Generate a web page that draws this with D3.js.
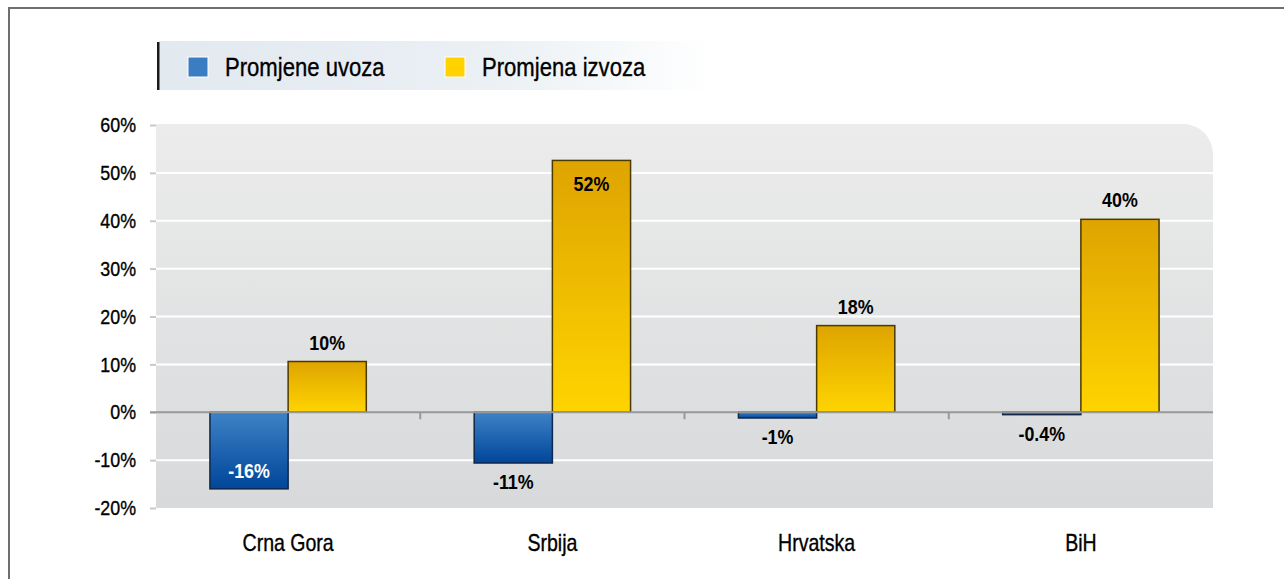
<!DOCTYPE html>
<html>
<head>
<meta charset="utf-8">
<script src="https://cdn.jsdelivr.net/npm/d3@7"></script>
<style>
  body { margin: 0; background: #fff; }
  svg { display: block; font-family: "Liberation Sans", Arial, sans-serif; }
</style>
</head>
<body>
<svg width="1284" height="579"></svg>
<script>
// исходные данные
const categories = ["Crna Gora", "Srbija", "Hrvatska", "BiH"];
const seriesNames = ["Promjene uvoza", "Promjena izvoza"];
const uvoz = [-16, -10.6, -1.2, -0.5];
const izvoz = [10.6, 52.6, 18.1, 40.3];
const uvozLabels = ["-16%", "-11%", "-1%", "-0.4%"];
const izvozLabels = ["10%", "52%", "18%", "40%"];
const yTicks = [-20, -10, 0, 10, 20, 30, 40, 50, 60];

// сжатие шрифта по горизонтали (узкий шрифт)
const cond = 0.85;

let svg = d3.select("svg");

// область построения
attr_area = {
    left: 156,
    right: 1213,
    top: 125,
    bottom: 508
};

const defs = svg.append("defs");

function addGradient(id, x2, y2, stops) {
    const g = defs.append("linearGradient")
        .attr("id", id)
        .attr("x1", "0").attr("y1", "0")
        .attr("x2", x2).attr("y2", y2);
    stops.forEach(s => g.append("stop").attr("offset", s[0]).attr("stop-color", s[1]));
}

// текст узким начертанием
function condText(x, y, txt, size, weight, fill, anchor) {
    const t = svg.append("text")
        .attr("transform", `translate(${x}, ${y}) scale(${cond}, 1)`)
        .attr("text-anchor", anchor || "start")
        .attr("font-size", size)
        .attr("font-weight", weight || "normal")
        .attr("fill", fill || "#000")
        .text(txt);
    if (!weight) t.attr("stroke", fill || "#000").attr("stroke-width", 0.35);
    return t;
}

addGradient("bgGrad", "0", "1", [[0, "#ebeceb"], [1, "#d8d9db"]]);
addGradient("blueGrad", "0", "1", [[0, "#3e82c6"], [1, "#00469a"]]);
addGradient("yellowGrad", "0", "1", [[0, "#dea400"], [1, "#ffd400"]]);
addGradient("legGrad", "1", "0", [[0, "#e2e9ef"], [0.6, "#eaf0f4"], [1, "#ffffff"]]);

// внешняя рамка
svg.append("rect")
    .attr("x", 9).attr("y", 8)
    .attr("width", 1300).attr("height", 600)
    .attr("fill", "none")
    .attr("stroke", "#6f6f6f")
    .attr("stroke-width", 2);

// легенда
svg.append("rect")
    .attr("x", 159).attr("y", 41)
    .attr("width", 556).attr("height", 49)
    .attr("fill", "url(#legGrad)");
svg.append("rect")
    .attr("x", 157).attr("y", 42)
    .attr("width", 2.5).attr("height", 48)
    .attr("fill", "#1a1a1a");

const legendX = [188, 445];
const legendFill = ["#3a7dc3", "#ffd200"];
seriesNames.forEach((name, i) => {
    svg.append("rect")
        .attr("x", legendX[i]).attr("y", 57)
        .attr("width", 20).attr("height", 20)
        .attr("fill", legendFill[i])
        .attr("stroke", "#fff")
        .attr("stroke-width", 1);
    condText(legendX[i] + 37, 76, name, 26);
});

// шкалы
let scaleX = d3.scaleBand()
    .domain(categories)
    .range([attr_area.left, attr_area.right])
    .padding(0);

let scaleSub = d3.scaleBand()
    .domain([0, 1])
    .range([0, scaleX.bandwidth()])
    .paddingInner(0)
    .paddingOuter(0.69);

let scaleY = d3.scaleLinear()
    .domain([-20, 60])
    .range([attr_area.bottom, attr_area.top]);

// фон с закругленным углом
const r = 30;
svg.append("path")
    .attr("d", `M${attr_area.left},${attr_area.top - 1} H${attr_area.right - r}
                A${r},${r} 0 0 1 ${attr_area.right},${attr_area.top - 1 + r}
                V${attr_area.bottom} H${attr_area.left} Z`)
    .attr("fill", "url(#bgGrad)");

// сетка
yTicks.filter(t => t !== 0 && t !== 60 && t !== -20).forEach(t => {
    svg.append("line")
        .attr("x1", attr_area.left).attr("x2", attr_area.right)
        .attr("y1", scaleY(t)).attr("y2", scaleY(t))
        .attr("stroke", "#fff")
        .attr("stroke-width", 2);
});

// ось Y
let axisY = d3.axisLeft(scaleY)
    .tickValues(yTicks)
    .tickSize(6)
    .tickPadding(14)
    .tickFormat(d => d + "%");

let gY = svg.append("g")
    .attr("transform", `translate(${attr_area.left}, 0)`)
    .call(axisY);
gY.select(".domain").remove();
gY.selectAll(".tick line").attr("stroke", "#c8c8c8").attr("stroke-width", 2);
gY.selectAll(".tick text")
    .attr("font-size", 21)
    .attr("font-family", null)
    .attr("fill", "#000")
    .attr("stroke", "#000")
    .attr("stroke-width", 0.35)
    .attr("x", -20 / cond)
    .attr("transform", `scale(${cond}, 1)`);

// столбцы
const allSeries = [uvoz, izvoz];
const fills = ["url(#blueGrad)", "url(#yellowGrad)"];
const strokes = ["#10264a", "#4a3a00"];

categories.forEach((c, ci) => {
    allSeries.forEach((vals, si) => {
        const v = vals[ci];
        svg.append("rect")
            .attr("x", scaleX(c) + scaleSub(si))
            .attr("y", scaleY(Math.max(0, v)))
            .attr("width", scaleSub.bandwidth())
            .attr("height", Math.abs(scaleY(v) - scaleY(0)))
            .attr("fill", fills[si])
            .attr("stroke", strokes[si])
            .attr("stroke-width", 1.5);
    });
});

// нулевая линия и деления категорий
svg.append("line")
    .attr("x1", attr_area.left - 6).attr("x2", attr_area.right)
    .attr("y1", scaleY(0)).attr("y2", scaleY(0))
    .attr("stroke", "#999")
    .attr("stroke-width", 2);

categories.slice(1).forEach(c => {
    svg.append("line")
        .attr("x1", scaleX(c)).attr("x2", scaleX(c))
        .attr("y1", scaleY(0)).attr("y2", scaleY(0) + 7)
        .attr("stroke", "#999")
        .attr("stroke-width", 2);
});

// подписи категорий
let axisX = d3.axisBottom(scaleX).tickSize(0).tickPadding(0);
let gX = svg.append("g")
    .attr("transform", `translate(0, ${attr_area.bottom + 43})`)
    .call(axisX);
gX.select(".domain").remove();
gX.selectAll(".tick text")
    .attr("font-size", 23)
    .attr("font-family", null)
    .attr("fill", "#000")
    .attr("stroke", "#000")
    .attr("stroke-width", 0.35)
    .attr("dy", 0)
    .attr("transform", `scale(${cond}, 1)`);

// подписи значений
categories.forEach((c, ci) => {
    const cx0 = scaleX(c) + scaleSub(0) + scaleSub.bandwidth() / 2;
    const cx1 = scaleX(c) + scaleSub(1) + scaleSub.bandwidth() / 2;

    // импорт - под столбцом, если не помещается - внутри
    const yb = scaleY(uvoz[ci]);
    const inside0 = yb + 28 > attr_area.bottom;
    condText(cx0, inside0 ? yb - 11 : yb + 26, uvozLabels[ci], 21, "bold",
             inside0 ? "#fff" : "#000", "middle");

    // экспорт - над столбцом, если не помещается - внутри
    const yt = scaleY(izvoz[ci]);
    const inside1 = yt - 40 < attr_area.top;
    condText(cx1, inside1 ? yt + 31 : yt - 12, izvozLabels[ci], 21, "bold",
             "#000", "middle");
});
</script>
</body>
</html>
